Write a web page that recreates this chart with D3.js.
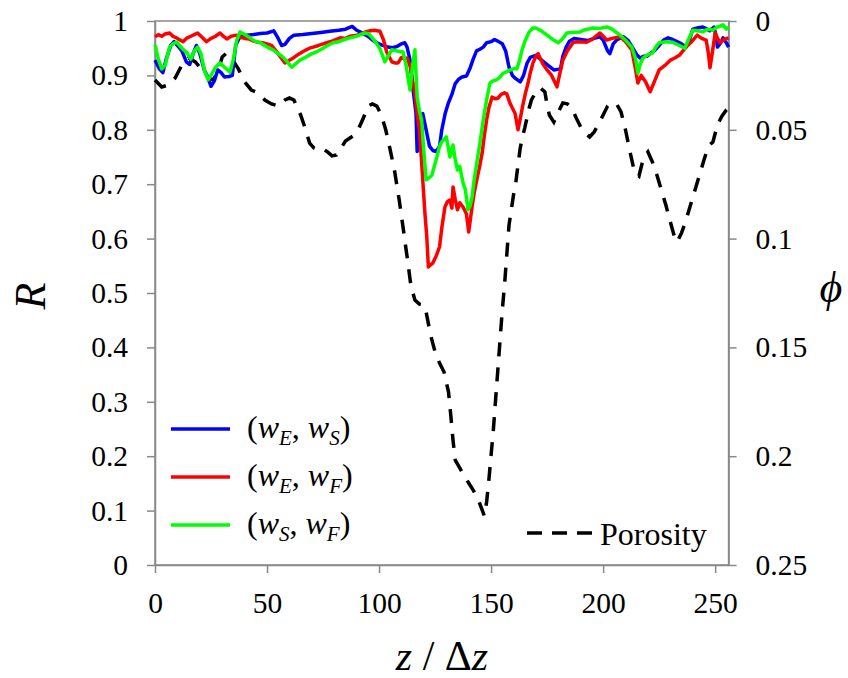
<!DOCTYPE html>
<head>
  <style>
    body { margin: 0; background: #fff; }
    .axis path, .axis line { stroke: #898989; stroke-width: 1.5; }
  </style>
  <title>Correlation R and porosity along z</title>
</head>
<body>
  <script src="https://cdn.jsdelivr.net/npm/d3@7"></script>
  <script>
    // chart values: [z, value]
    var wEwS = [[0,0.928],[2,0.912],[3.5,0.905],[5,0.93],[7,0.955],[8.5,0.962],[10,0.955],[12,0.945],[14,0.925],[15.5,0.92],[17,0.94],[18.5,0.955],[20,0.94],[22,0.91],[23.5,0.897],[25,0.88],[26.5,0.89],[28,0.91],[29.5,0.905],[31,0.897],[33,0.898],[34.5,0.9],[36,0.955],[38,0.972],[41,0.974],[44,0.975],[47,0.977],[50,0.978],[53,0.982],[55,0.968],[56.5,0.955],[58,0.957],[60,0.968],[62,0.974],[66,0.975],[70,0.977],[74,0.979],[78,0.981],[82,0.983],[85,0.985],[88,0.99],[90,0.983],[92,0.979],[95,0.972],[97,0.965],[99,0.96],[101,0.956],[104,0.952],[106,0.951],[108,0.953],[110,0.958],[111.5,0.96],[112.5,0.952],[114,0.925],[115,0.88],[116.5,0.83],[117,0.76],[118,0.79],[119.5,0.83],[121,0.8],[122.5,0.77],[124,0.762],[125.5,0.76],[127,0.77],[128,0.8],[129.5,0.83],[131,0.85],[132.5,0.865],[134,0.885],[135.5,0.893],[137,0.897],[139,0.899],[140.5,0.912],[142,0.93],[143.5,0.945],[145,0.948],[146.5,0.952],[148,0.96],[150,0.962],[151.5,0.966],[153,0.963],[155,0.958],[156.5,0.945],[158,0.915],[159.5,0.9],[161,0.894],[163,0.888],[164.5,0.9],[166,0.922],[167.5,0.933],[170,0.937],[172,0.93],[175,0.92],[178,0.91],[181,0.912],[182,0.935],[183.5,0.952],[185,0.963],[187,0.968],[190,0.966],[193,0.964],[196,0.968],[198.5,0.971],[200,0.965],[202,0.945],[203,0.94],[204.5,0.958],[206,0.965],[209,0.971],[211,0.965],[213,0.952],[215,0.938],[216.5,0.932],[218,0.935],[219.5,0.935],[221,0.94],[223,0.946],[225,0.955],[227,0.965],[229,0.969],[231,0.966],[233,0.962],[235,0.958],[237,0.952],[238.5,0.965],[240,0.985],[242,0.987],[244.5,0.989],[246,0.986],[247.5,0.982],[249.5,0.989],[250.5,0.97],[251,0.952],[252.5,0.96],[253.5,0.969],[255,0.96],[256,0.952]];

    var wEwF = [[0,0.971],[1.5,0.975],[3,0.972],[4.5,0.976],[6.5,0.978],[8,0.972],[10,0.968],[12.5,0.962],[14,0.968],[16,0.972],[17.5,0.975],[19,0.978],[21,0.97],[23,0.962],[25,0.968],[27,0.972],[29,0.978],[30.5,0.972],[32,0.967],[34,0.972],[36.5,0.974],[38,0.97],[40,0.968],[42,0.967],[44,0.963],[46,0.961],[48,0.96],[50,0.958],[52,0.955],[54,0.945],[56,0.934],[58,0.923],[60,0.928],[61.7,0.932],[63,0.936],[65,0.941],[67,0.946],[69,0.95],[70.6,0.952],[73,0.955],[75,0.958],[76.6,0.96],[79,0.963],[82.6,0.969],[85,0.968],[87,0.972],[90,0.974],[92,0.976],[94,0.98],[96,0.982],[98,0.983],[100.4,0.981],[102,0.965],[103.4,0.943],[105.7,0.925],[107,0.923],[108.5,0.923],[110,0.933],[111.5,0.93],[112.5,0.932],[114,0.915],[114.7,0.895],[116,0.868],[117,0.83],[118,0.8],[119,0.74],[119.7,0.695],[120.5,0.645],[121.3,0.603],[122,0.548],[123,0.552],[124,0.555],[125.5,0.568],[127,0.585],[128,0.62],[129.4,0.658],[130.5,0.668],[131.6,0.671],[132.5,0.656],[133,0.695],[134,0.672],[135,0.653],[136,0.666],[137.5,0.658],[139,0.645],[140,0.612],[141.5,0.658],[142.5,0.685],[143.6,0.708],[145,0.735],[146,0.757],[147,0.79],[148,0.818],[149,0.84],[150.4,0.86],[152,0.857],[153,0.858],[154.5,0.865],[156,0.868],[157,0.866],[158.4,0.849],[159.5,0.84],[160.7,0.83],[162,0.8],[163,0.82],[164,0.842],[165.2,0.865],[166.5,0.886],[167.5,0.905],[168.7,0.923],[170,0.935],[171,0.94],[173,0.922],[175,0.91],[177,0.9],[179.4,0.879],[180.5,0.9],[182,0.928],[184,0.945],[186.7,0.961],[189,0.962],[192.6,0.961],[195,0.966],[198.6,0.978],[200,0.972],[201.6,0.965],[204,0.968],[207.5,0.971],[210,0.962],[212.8,0.947],[214.5,0.91],[215.5,0.886],[217,0.9],[219,0.888],[221,0.87],[223,0.89],[225,0.91],[228,0.92],[230,0.928],[232,0.932],[234,0.937],[237,0.952],[239.5,0.962],[242,0.974],[244,0.968],[246,0.965],[247,0.94],[247.7,0.914],[248.5,0.935],[250,0.978],[252,0.96],[254,0.966],[256,0.969]];

    var wSwF = [[0,0.956],[1.5,0.93],[3,0.912],[4.5,0.918],[6.5,0.952],[8,0.958],[9.7,0.961],[11,0.955],[12.5,0.948],[14,0.943],[16,0.93],[17.5,0.945],[19,0.952],[20.5,0.94],[22,0.91],[23.7,0.892],[25,0.9],[27,0.915],[29,0.923],[31,0.915],[33.5,0.906],[35,0.93],[36.5,0.965],[38,0.98],[40,0.975],[42.4,0.969],[44.5,0.963],[47,0.96],[49,0.955],[51,0.95],[52.7,0.947],[55,0.94],[57,0.934],[59,0.925],[61,0.915],[63,0.922],[64.7,0.928],[67,0.933],[70,0.94],[72,0.943],[75,0.95],[77,0.955],[79.5,0.96],[82,0.962],[84.5,0.966],[87,0.969],[90,0.972],[93.7,0.978],[95.5,0.976],[97,0.969],[99,0.958],[100.5,0.948],[102.6,0.925],[104,0.935],[105.7,0.947],[108,0.945],[110.7,0.943],[112,0.92],[113.8,0.873],[115,0.92],[116,0.947],[117,0.86],[118,0.835],[119,0.818],[120,0.76],[121,0.708],[122.5,0.712],[123.6,0.717],[124.8,0.735],[125.8,0.75],[127,0.77],[128,0.778],[129,0.782],[130,0.787],[131,0.765],[131.6,0.75],[133,0.772],[134,0.745],[135,0.726],[136,0.733],[137.5,0.702],[138.5,0.69],[139.7,0.653],[140.6,0.66],[141.5,0.676],[142.5,0.71],[143.6,0.739],[145,0.775],[146.5,0.818],[148,0.855],[149.5,0.886],[151,0.89],[152.5,0.892],[154,0.897],[155.4,0.904],[157,0.907],[158.4,0.91],[160,0.912],[161.5,0.912],[162.5,0.925],[163.7,0.945],[165,0.962],[166,0.971],[167,0.98],[168.7,0.987],[170,0.987],[172,0.983],[175,0.974],[177.5,0.966],[180,0.96],[182,0.968],[183.8,0.978],[186,0.979],[189.7,0.98],[192,0.984],[195.5,0.987],[198,0.986],[201.7,0.989],[204,0.985],[207.5,0.974],[210,0.965],[212.8,0.952],[214.5,0.93],[215.5,0.904],[216.5,0.92],[217.8,0.932],[220,0.938],[222,0.941],[223.5,0.952],[225,0.96],[228,0.962],[231,0.961],[234,0.955],[236.5,0.95],[238,0.965],[240,0.983],[242,0.982],[244.6,0.98],[246,0.984],[247.7,0.985],[249,0.983],[250.8,0.989],[252,0.99],[253.5,0.993],[255,0.985],[256,0.989]];

    // porosity on the right axis (phi)
    var porosity = [[0,0.0271],[3,0.0303],[6,0.0294],[9,0.0262],[12,0.0202],[15,0.017],[18,0.0188],[21,0.0225],[24,0.0262],[26,0.0271],[28,0.0234],[30,0.0165],[32,0.0147],[34,0.017],[37,0.0216],[40,0.028],[43,0.0317],[46,0.0331],[49,0.0363],[52,0.0381],[55,0.0391],[58,0.0363],[60,0.0354],[62,0.0363],[65,0.0432],[67,0.0492],[69,0.0561],[71,0.0584],[73,0.0593],[75,0.0588],[77,0.0602],[79,0.062],[81,0.0616],[83,0.0584],[85,0.0552],[87,0.0538],[89,0.0524],[91,0.0492],[93,0.0446],[95,0.0391],[97,0.0381],[99,0.0391],[101,0.0432],[103,0.0501],[105,0.0593],[107,0.0694],[109,0.0823],[111,0.097],[113,0.1121],[114,0.12],[115,0.1246],[116,0.1282],[118,0.1301],[120,0.1305],[121,0.1337],[123,0.1443],[125,0.1521],[127,0.1572],[129,0.1613],[131,0.1705],[132,0.1811],[133,0.1926],[134,0.2018],[136,0.2054],[138,0.2091],[140,0.2123],[142,0.2156],[144,0.2192],[146,0.2247],[147,0.2275],[148,0.2211],[149,0.211],[150,0.1995],[151,0.188],[152,0.1742],[153,0.1604],[154,0.1466],[155,0.1328],[156,0.1213],[157,0.1075],[158,0.0938],[159,0.0869],[160,0.08],[161,0.0745],[162,0.0662],[163,0.0584],[164,0.0533],[165,0.0492],[166,0.0446],[167,0.04],[168,0.0363],[170,0.0326],[172,0.0308],[174,0.0326],[175,0.0386],[176,0.0432],[178,0.0464],[180,0.0418],[182,0.0377],[184,0.0381],[186,0.04],[188,0.0446],[190,0.0487],[192,0.0515],[194,0.0533],[196,0.051],[198,0.0473],[200,0.0432],[202,0.0391],[204,0.0377],[206,0.0381],[208,0.0418],[210,0.0501],[212,0.0602],[214,0.0694],[216,0.0712],[218,0.063],[220,0.0602],[222,0.0648],[224,0.0708],[226,0.0777],[228,0.0846],[230,0.0924],[232,0.0997],[233,0.1016],[235,0.0974],[237,0.0915],[239,0.0846],[241,0.0777],[243,0.0708],[245,0.0639],[247,0.0575],[249,0.0556],[251,0.0478],[253,0.0437],[255,0.0409],[256,0.04]];

    // tick labels
    var zTicks = [0, 50, 100, 150, 200, 250];
    var rTicks = [0, 0.1, 0.2, 0.3, 0.4, 0.5, 0.6, 0.7, 0.8, 0.9, 1];
    var phiTicks = [0, 0.05, 0.1, 0.15, 0.2, 0.25];

    var serif = "Liberation Serif";

    // plot area
    var width = 848;
    var height = 678;
    var margin = { top: 21, left: 155, bottom: 113, right: 119.4 };
    var x0 = margin.left, x1 = width - margin.right;
    var y0 = margin.top, y1 = height - margin.bottom;

    var xScale = d3.scaleLinear().domain([0, 256]).range([x0, x1]);
    var yScale = d3.scaleLinear().domain([0, 1]).range([y1, y0]);
    var phiScale = d3.scaleLinear().domain([0, 0.25]).range([y0, y1]);

    var svg = d3.select("body").append("svg")
      .attr("width", width)
      .attr("height", height);

    // frame around the plot
    svg.append("rect")
      .attr("x", x0).attr("y", y0)
      .attr("width", x1 - x0).attr("height", y1 - y0)
      .attr("fill", "none")
      .attr("stroke", "#898989")
      .attr("stroke-width", 1.5);

    // axes
    function styleAxis(g) {
      g.attr("font-family", null).attr("font-size", null);
      g.selectAll("text")
        .attr("font-family", serif)
        .attr("font-size", 29.5)
        .attr("fill", "#000");
    }

    svg.append("g").attr("class", "axis")
      .attr("transform", "translate(0," + y1 + ")")
      .call(d3.axisBottom(xScale).tickValues(zTicks).tickSize(8).tickSizeOuter(0).tickPadding(19).tickFormat(String))
      .call(styleAxis);

    svg.append("g").attr("class", "axis")
      .attr("transform", "translate(" + x0 + ",0)")
      .call(d3.axisLeft(yScale).tickValues(rTicks).tickSize(8).tickSizeOuter(0).tickPadding(19).tickFormat(String))
      .call(styleAxis);

    svg.append("g").attr("class", "axis")
      .attr("transform", "translate(" + x1 + ",0)")
      .call(d3.axisRight(phiScale).tickValues(phiTicks).tickSize(8).tickSizeOuter(0).tickPadding(19).tickFormat(String))
      .call(styleAxis);

    // lines
    var lineR = d3.line()
      .x(function(d) { return xScale(d[0]); })
      .y(function(d) { return yScale(d[1]); });
    var linePhi = d3.line()
      .x(function(d) { return xScale(d[0]); })
      .y(function(d) { return phiScale(d[1]); });

    svg.append("path").datum(porosity)
      .attr("d", linePhi)
      .attr("fill", "none")
      .attr("stroke", "#000")
      .attr("stroke-width", 3.5)
      .attr("stroke-dasharray", "14,11");

    var series = [
      { data: wEwS, color: "#0000ff" },
      { data: wEwF, color: "#ff0000" },
      { data: wSwF, color: "#00ff00" }
    ];
    series.forEach(function(s) {
      svg.append("path").datum(s.data)
        .attr("d", lineR)
        .attr("fill", "none")
        .attr("stroke", s.color)
        .attr("stroke-width", 3.5)
        .attr("stroke-linejoin", "round");
    });

    // legend
    var legendRows = [
      { color: "#0000ff", a: "E", b: "S", y: 429 },
      { color: "#ff0000", a: "E", b: "F", y: 477 },
      { color: "#00ff00", a: "S", b: "F", y: 525 }
    ];
    legendRows.forEach(function(r) {
      svg.append("line")
        .attr("x1", 171).attr("x2", 230)
        .attr("y1", r.y).attr("y2", r.y)
        .attr("stroke", r.color)
        .attr("stroke-width", 3.5);
      var t = svg.append("text")
        .attr("x", 247).attr("y", r.y + 9)
        .attr("font-family", serif)
        .attr("font-size", 32);
      t.append("tspan").text("(");
      t.append("tspan").attr("font-style", "italic").text("w");
      t.append("tspan").attr("font-style", "italic").attr("font-size", 21).attr("dy", 7).text(r.a);
      t.append("tspan").attr("dy", -7).text(", ");
      t.append("tspan").attr("font-style", "italic").text("w");
      t.append("tspan").attr("font-style", "italic").attr("font-size", 21).attr("dy", 7).text(r.b);
      t.append("tspan").attr("dy", -7).text(")");
    });

    svg.append("line")
      .attr("x1", 527).attr("x2", 592)
      .attr("y1", 533).attr("y2", 533)
      .attr("stroke", "#000")
      .attr("stroke-width", 3.5)
      .attr("stroke-dasharray", "15,10");
    svg.append("text")
      .attr("x", 600).attr("y", 545)
      .attr("font-family", serif)
      .attr("font-size", 32)
      .text("Porosity");

    // axis titles
    svg.append("text")
      .attr("transform", "translate(45,296) rotate(-90)")
      .attr("text-anchor", "middle")
      .attr("font-family", serif)
      .attr("font-size", 44)
      .attr("font-style", "italic")
      .text("R");

    svg.append("text")
      .attr("x", 831).attr("y", 302)
      .attr("text-anchor", "middle")
      .attr("font-family", serif)
      .attr("font-size", 44)
      .attr("font-style", "italic")
      .text("\u03D5");

    var xt = svg.append("text")
      .attr("x", 442).attr("y", 670)
      .attr("text-anchor", "middle")
      .attr("font-family", serif)
      .attr("font-size", 42);
    xt.append("tspan").attr("font-style", "italic").text("z");
    xt.append("tspan").text(" / \u0394");
    xt.append("tspan").attr("font-style", "italic").text("z");
  </script>
</body>
